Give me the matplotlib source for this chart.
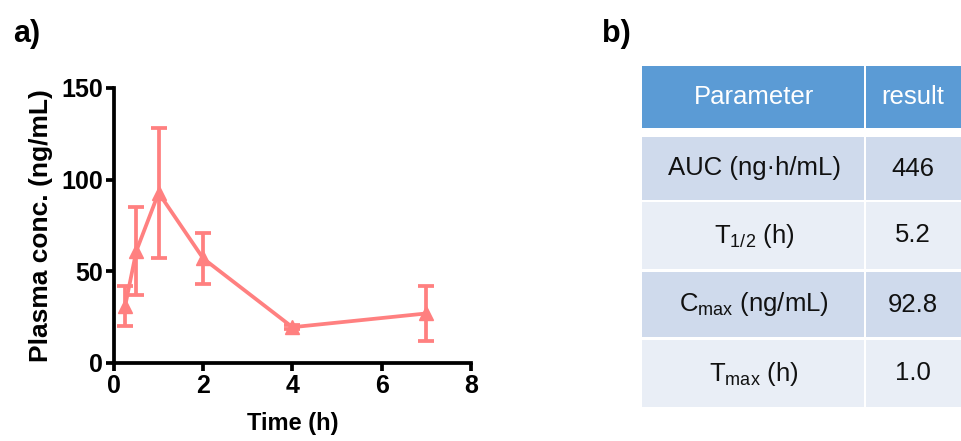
import numpy as np
import matplotlib
matplotlib.use("Agg")
import matplotlib.pyplot as plt
from matplotlib.patches import Rectangle

plt.rcParams['font.family'] = ['Liberation Sans', 'DejaVu Sans']
plt.rcParams['mathtext.fontset'] = 'custom'
plt.rcParams['mathtext.rm'] = 'Liberation Sans'
plt.rcParams['mathtext.it'] = 'Liberation Sans'

# pharmacokinetic curve
time_h = [0.25, 0.5, 1, 2, 4, 7]
conc = [31, 61, 92.8, 57, 19.5, 27]
conc_sd = [11, 24, 35.5, 14, 1, 15]

# parameter table
param_names = ["AUC (ng\u00b7h/mL)", r"T$_{1/2}$ (h)", r"C$_{max}$ (ng/mL)", r"T$_{max}$ (h)"]
param_values = ["446", "5.2", "92.8", "1.0"]
header = ["Parameter", "result"]

line_col = '#FF8080'

fig = plt.figure(figsize=(9.61, 4.41), dpi=100)

# ____ a) plot
ax = fig.add_axes([0.1186, 0.177, 0.3714, 0.6235])
ax.errorbar(time_h, conc, yerr=conc_sd, color=line_col, lw=2.7, marker='^',
            markersize=10, capsize=6, capthick=2.7, elinewidth=2.7)
ax.set_xlim(0, 8)
ax.set_ylim(0, 150)
ax.set_xticks([0, 2, 4, 6, 8])
ax.set_yticks([0, 50, 100, 150])
for s in ['top', 'right']:
    ax.spines[s].set_visible(False)
for s in ['left', 'bottom']:
    ax.spines[s].set_linewidth(2.7)
ax.tick_params(width=2.7, length=6, labelsize=18, pad=2)
for lab in ax.get_xticklabels() + ax.get_yticklabels():
    lab.set_fontweight('bold')
ax.set_xlabel("Time (h)", fontsize=17, fontweight='bold', labelpad=10)
ax.set_ylabel("Plasma conc. (ng/mL)", fontsize=19, fontweight='bold', labelpad=6)
for c in ax.get_children():
    c.set_clip_on(False)

fig.text(0.014, 0.922, "a)", fontsize=22, fontweight='bold', va='center')
fig.text(0.626, 0.922, "b)", fontsize=22, fontweight='bold', va='center')

# ____ b) table (pixel coords of the figure)
W, H = 961, 441
tab = fig.add_axes([0, 0, 1, 1])
tab.set_xlim(0, W)
tab.set_ylim(H, 0)
tab.axis('off')

col_x = [642, 866]
col_w = [222, 100]
row_y = [66, 137, 202, 272, 340]
row_h = [62, 63, 67, 65, 67]
row_col = ['#5B9BD5', '#CFDAEC', '#E9EEF6', '#CFDAEC', '#E9EEF6']

cells = [header] + [[n, v] for n, v in zip(param_names, param_values)]
for i, row in enumerate(cells):
    for j, txt in enumerate(row):
        tab.add_patch(Rectangle((col_x[j], row_y[i]), col_w[j], row_h[i],
                                facecolor=row_col[i], edgecolor='none'))
        tab.text(col_x[j] + (112 if j == 0 else 47), row_y[i] + row_h[i] / 2, txt,
                 ha='center', va='center', fontsize=18.5,
                 color='white' if i == 0 else '#111111')

fig.savefig("out.png", dpi=100)
